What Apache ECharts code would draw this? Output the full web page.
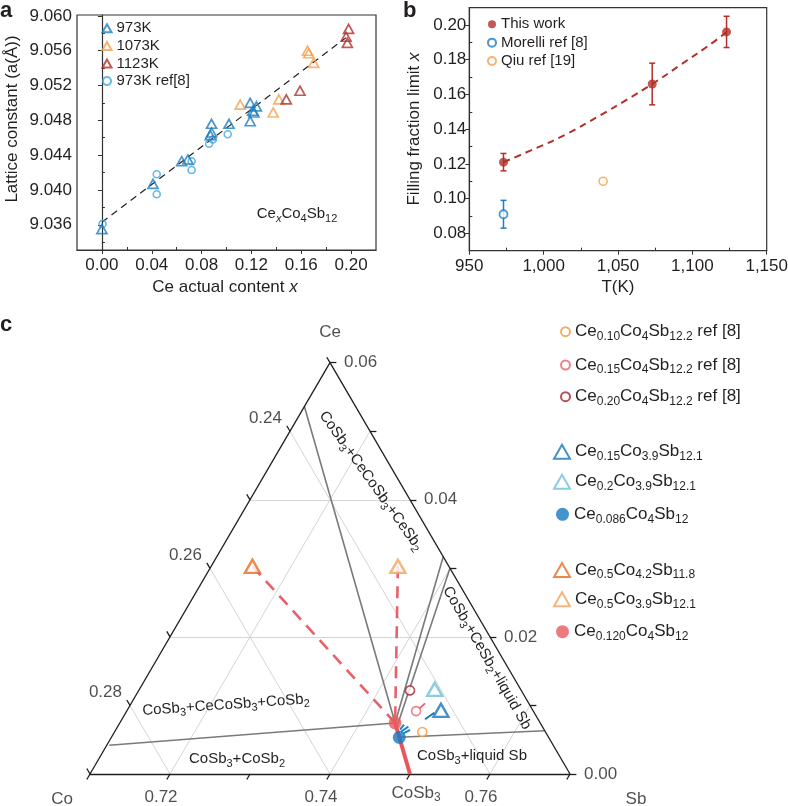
<!DOCTYPE html>
<html><head><meta charset="utf-8">
<script src="https://cdn.jsdelivr.net/npm/echarts@6/dist/echarts.min.js"></script>
<style>html,body{margin:0;padding:0;background:#fff}#chart{width:788px;height:806px}</style>
</head><body><div id="chart"></div>
<script>
const FONT = '"Liberation Sans", Arial, Helvetica, sans-serif';
const INK = '#231f20';

// ---------- Panel a : lattice constant vs Ce content ----------
const a_xTicks = [0.00, 0.04, 0.08, 0.12, 0.16, 0.20];
const a_xMinor = [0.02, 0.06, 0.10, 0.14, 0.18];
const a_yTicks = [9.036, 9.040, 9.044, 9.048, 9.052, 9.056, 9.060];
const a_yMinor = [9.034, 9.038, 9.042, 9.046, 9.050, 9.054, 9.058];
const a_973K = [[0.000,9.0355],[0.041,9.0407],[0.064,9.0433],[0.069,9.0435],[0.088,9.0476],[0.088,9.0466],[0.087,9.0463],[0.102,9.0476],[0.119,9.0500],[0.119,9.0479],[0.122,9.0489],[0.124,9.0496],[0.121,9.0491]];
const a_1073K = [[0.111,9.0498],[0.1375,9.0489],[0.142,9.0504],[0.165,9.0560],[0.166,9.0557],[0.170,9.0546]];
const a_1123K = [[0.148,9.0504],[0.159,9.0514],[0.198,9.0585],[0.196,9.0576],[0.197,9.0569]];
const a_973Kref = [[0.0005,9.0361],[0.044,9.0418],[0.044,9.0395],[0.072,9.0433],[0.072,9.0423],[0.086,9.0453],[0.089,9.0458],[0.101,9.0464]];
const a_fit = [[0.000,9.0363],[0.196,9.0575]];

// ---------- Panel b : filling fraction limit vs T ----------
const b_xTicks = [950, 1000, 1050, 1100, 1150];
const b_xMinor = [975, 1025, 1075, 1125];
const b_yTicks = [0.08, 0.10, 0.12, 0.14, 0.16, 0.18, 0.20];
const b_yMinor = [0.09, 0.11, 0.13, 0.15, 0.17, 0.19];
const b_thisT = [973, 1073, 1123];
const b_thisX = [0.121, 0.166, 0.196];
const b_thisErr = [0.005, 0.012, 0.009];
const b_morelliT = [973];
const b_morelliX = [0.091];
const b_morelliErr = [0.008];
const b_qiuT = [1040];
const b_qiuX = [0.110];
const b_fit = [[973,0.121],[991,0.1276],[1015,0.137],[1038,0.148],[1056,0.157],[1073,0.166],[1092,0.177],[1114,0.190],[1123,0.196]];

// ---------- Panel c : ternary section (Ce, Co, Sb atomic amounts) ----------
const c_ref010 = [0.10, 4, 12.2];
const c_ref015 = [0.15, 4, 12.2];
const c_ref020 = [0.20, 4, 12.2];
const c_s015 = [0.15, 3.9, 12.1];
const c_s020 = [0.2, 3.9, 12.1];
const c_s0086 = [0.086, 4, 12];
const c_n05a = [0.5, 4.2, 11.8];
const c_n05b = [0.5, 3.9, 12.1];
const c_s0120 = [0.120, 4, 12];
const c_CoSb3 = [0, 1, 3];
// phase boundaries as [Ce fraction, Sb fraction]
const c_boundA = [[0.0042, 0.7103], [0.00744, 0.74442]];
const c_boundB = [[0.0536, 0.7100], [0.00744, 0.74442]];
const c_boundC1 = [[0.0317, 0.7383], [0.00744, 0.74442]];
const c_boundC2 = [[0.0300, 0.7400], [0.00678, 0.74494]];
const c_boundD = [[0.00535, 0.74599], [0.00632, 0.76368]];
const c_tailPink = [[0.00956, 0.74641], [0.01031, 0.74672]];
const c_tailBlue = [[0.00798, 0.74789], [0.00894, 0.74857]];
const c_fanBlue = [[[0.00617, 0.74579], [0.00690, 0.74634]], [[0.00594, 0.74619], [0.00642, 0.74679]], [[0.00649, 0.74551], [0.00722, 0.74564]]];
const c_gridCe = [0.02, 0.04];
const c_gridSb = [0.72, 0.74, 0.76];
const c_gridCo = [0.24, 0.26, 0.28];
const c_tickCo = [0.23, 0.24, 0.25, 0.26, 0.27, 0.28, 0.29];
const c_tickSb = [0.71, 0.72, 0.73, 0.74, 0.75, 0.76, 0.77];
const c_tickCe = [0.00, 0.01, 0.02, 0.03, 0.04, 0.05, 0.06];
const c_labCo = [0.24, 0.26, 0.28];
const c_labSb = [0.72, 0.74, 0.76];
const c_labCe = [0.00, 0.02, 0.04, 0.06];

// ---------- helpers ----------
const CE_MAX = 0.06, SB_MIN = 0.71, CO_MIN = 0.23;
function frac(f) { const t = f[0] + f[1] + f[2]; return [f[0] / t, f[2] / t]; }
function proj(ce, sb) { return [sb + ce / 2, ce]; }
function projF(f) { const p = frac(f); return proj(p[0], p[1]); }
function seg(a, b) { return { coords: [proj(a[0], a[1]), proj(b[0], b[1])] }; }
function chem(str, b, s) { return str.replace(/([A-Za-z]+)([0-9.]+)/g, '{' + (b||'b') + '|$1}{' + (s||'s') + '|$2}'); }
function rich(fs, sfs, colorKey) {
  const c = {}; c[colorKey] = INK;
  return {
    b: Object.assign({ fontSize: fs, fontFamily: FONT, lineHeight: fs + 5 }, c),
    s: Object.assign({ fontSize: sfs, fontFamily: FONT, lineHeight: 8, verticalAlign: 'bottom' }, c),
    i: Object.assign({ fontSize: fs, fontFamily: FONT, lineHeight: fs + 5, fontStyle: 'italic' }, c),
    si: Object.assign({ fontSize: sfs, fontFamily: FONT, lineHeight: 8, verticalAlign: 'bottom', fontStyle: 'italic' }, c)
  };
}

const axLine = { show: true, lineStyle: { color: '#333', width: 1.2 } };
const lbl = { fontSize: 17, fontFamily: FONT, color: INK };
function majorAxis(grid, min, max, ticks, fmt, margin, pos) {
  return { gridIndex: grid, type: 'value', min, max, position: pos, axisLine: axLine,
    axisTick: { show: true, inside: false, length: 4, customValues: ticks, lineStyle: { color: '#333', width: 1 } },
    axisLabel: Object.assign({ customValues: ticks, formatter: fmt, margin }, lbl),
    splitLine: { show: false } };
}
function minorAxis(grid, min, max, ticks, pos) {
  return { gridIndex: grid, type: 'value', min, max, position: pos, axisLine: { show: false },
    axisTick: { show: true, inside: true, length: 3, customValues: ticks, lineStyle: { color: '#333', width: 1 } },
    axisLabel: { show: false }, splitLine: { show: false } };
}
const fmtB = v => v >= 1000 ? Math.floor(v / 1000) + ',' + String(v % 1000).padStart(3, '0') : String(v);

// colours
const C = { blue: '#1c7dc2', orange: '#f4a04e', dred: '#b3302a', lblue: '#3fa8dc' };

function openSym(color, bw) { return { color: 'transparent', borderColor: color, borderWidth: bw }; }
function errRender(color) {
  return function (params, api) {
    const x = api.value(0), lo = api.value(1), hi = api.value(2);
    const p1 = api.coord([x, lo]), p2 = api.coord([x, hi]);
    const w = 3, st = { stroke: color, lineWidth: 1.5 };
    return { type: 'group', children: [
      { type: 'line', shape: { x1: p1[0], y1: p1[1], x2: p2[0], y2: p2[1] }, style: st },
      { type: 'line', shape: { x1: p1[0] - w, y1: p1[1], x2: p1[0] + w, y2: p1[1] }, style: st },
      { type: 'line', shape: { x1: p2[0] - w, y1: p2[1], x2: p2[0] + w, y2: p2[1] }, style: st }
    ] };
  };
}

// ternary line sets
const gridSegs = [];
c_gridCe.forEach(v => gridSegs.push(seg([v, SB_MIN], [v, 1 - CO_MIN - v])));
c_gridSb.forEach(v => gridSegs.push(seg([0, v], [1 - CO_MIN - v, v])));
c_gridCo.forEach(v => gridSegs.push(seg([1 - SB_MIN - v, SB_MIN], [0, 1 - v])));
const edgeSegs = [seg([0, SB_MIN], [0, 1 - CO_MIN]), seg([0, 1 - CO_MIN], [CE_MAX, SB_MIN]), seg([CE_MAX, SB_MIN], [0, SB_MIN])];
const d = 0.0008, tickSegs = [];
c_tickCo.forEach(v => { const ce = 1 - SB_MIN - v; tickSegs.push(seg([ce, SB_MIN], [ce + d, SB_MIN - d])); });
c_tickSb.forEach(v => tickSegs.push(seg([0, v], [-d, v])));
c_tickCe.forEach(v => tickSegs.push(seg([v, 1 - CO_MIN - v], [v, 1 - CO_MIN - v + d])));
const P = frac(c_s0120), Q = frac(c_s0086), T1 = frac(c_n05a), T2 = frac(c_n05b), CS = frac(c_CoSb3);

const labelData = [];
const rich17 = rich(17, 12, 'color');
c_labCo.forEach(v => labelData.push({ value: proj(1 - SB_MIN - v, SB_MIN), label: { formatter: v.toFixed(2), align: 'right', offset: [-8, -13] } }));
c_labSb.forEach(v => labelData.push({ value: proj(0, v), label: { formatter: v.toFixed(2), align: 'center', offset: [-9, 23] } }));
c_labCe.forEach(v => labelData.push({ value: proj(v, 1 - CO_MIN - v), label: { formatter: v.toFixed(2), align: 'left', offset: [14, 0] } }));
labelData.push({ value: proj(CE_MAX, SB_MIN), label: { formatter: 'Ce', align: 'center', offset: [0, -30] } });
labelData.push({ value: proj(0, SB_MIN), label: { formatter: 'Co', align: 'center', offset: [-28, 25] } });
labelData.push({ value: proj(0, 1 - CO_MIN), label: { formatter: 'Sb', align: 'center', offset: [66, 25] } });
labelData.push({ value: proj(CS[0], CS[1]), label: { formatter: chem('CoSb3'), align: 'center', offset: [6, 19] } });

const X = 4; // ternary axis index
function cLines(data, style, z) {
  return { type: 'lines', coordinateSystem: 'cartesian2d', xAxisIndex: X, yAxisIndex: X, polyline: false, clip: false, silent: true, z: z || 2,
    lineStyle: Object.assign({ opacity: 1 }, style), data };
}
function cPoint(name, f, symbol, size, itemStyle) {
  return { type: 'scatter', name, xAxisIndex: X, yAxisIndex: X, symbol, symbolSize: size, clip: false, z: 6, itemStyle, data: [projF(f)] };
}

const cNames = ['Ce0.10Co4Sb12.2 ref [8]', 'Ce0.15Co4Sb12.2 ref [8]', 'Ce0.20Co4Sb12.2 ref [8]', 'Ce0.15Co3.9Sb12.1', 'Ce0.2Co3.9Sb12.1', 'Ce0.086Co4Sb12', 'Ce0.5Co4.2Sb11.8', 'Ce0.5Co3.9Sb12.1', 'Ce0.120Co4Sb12'];
const cLegTop = [320.7, 354, 385.7, 440.7, 470.7, 503.3, 559, 588.3, 620.7];
const cLegW = [9, 9, 9, 16, 16, 13, 16, 16, 13];
const cLegH = [9, 9, 9, 14, 14, 13, 14, 14, 13];

const legends = [
  { data: ['973K', '1073K', '1123K', '973K ref[8]'], orient: 'vertical', left: 101.5, top: 20.8, itemWidth: 9, itemHeight: 8, itemGap: 2.6, padding: 0, selectedMode: false,
    textStyle: { fontSize: 15, fontFamily: FONT, color: INK, lineHeight: 15 } },
  { data: ['This work', 'Morelli ref [8]', 'Qiu ref [19]'], orient: 'vertical', left: 487, top: 16.8, itemWidth: 8, itemHeight: 8, itemGap: 3.35, padding: 0, selectedMode: false,
    textStyle: { fontSize: 15, fontFamily: FONT, color: INK, lineHeight: 15 } }
];
cNames.forEach((n, i) => legends.push({ data: [n], orient: 'vertical', left: 574 - 5 - cLegW[i], top: cLegTop[i], itemWidth: cLegW[i], itemHeight: cLegH[i], padding: 0, selectedMode: false,
  formatter: nm => chem(nm), textStyle: { fontSize: 17, fontFamily: FONT, color: INK, lineHeight: 22, rich: rich17 } }));

const zr15 = rich(15, 11, 'fill');
const zr17 = rich(17, 12, 'fill');
function gText(x, y, text, opts) {
  return Object.assign({ type: 'text', x, y, silent: true, z: 20,
    style: Object.assign({ text, fontSize: 17, fontFamily: FONT, fill: INK, align: 'center', verticalAlign: 'middle' }, (opts && opts.style) || {}) }, (opts && opts.el) || {});
}
const deg = Math.PI / 180;

const option = {
  animation: false,
  backgroundColor: '#fff',
  grid: [
    { left: 77, top: 15, width: 299, height: 235, show: true, borderColor: '#333', borderWidth: 1.2, backgroundColor: 'transparent', outerBoundsMode: 'none' },
    { left: 469.3, top: 7.6, width: 297.4, height: 243.1, show: true, borderColor: '#333', borderWidth: 1.2, backgroundColor: 'transparent', outerBoundsMode: 'none' },
    { left: 90, top: 362.7, width: 480, height: 411.3, show: false, outerBoundsMode: 'none' }
  ],
  xAxis: [
    majorAxis(0, -0.02, 0.22, a_xTicks, v => v.toFixed(2), 7, 'bottom'),
    minorAxis(0, -0.02, 0.22, a_xMinor, 'bottom'),
    majorAxis(1, 950, 1150, b_xTicks, fmtB, 7, 'bottom'),
    minorAxis(1, 950, 1150, b_xMinor, 'bottom'),
    { gridIndex: 2, type: 'value', min: SB_MIN, max: 1 - CO_MIN, show: false }
  ],
  yAxis: [
    majorAxis(0, 9.0331, 9.0601, a_yTicks, v => v.toFixed(3), 5, 'left'),
    minorAxis(0, 9.0331, 9.0601, a_yMinor, 'left'),
    majorAxis(1, 0.07, 0.21, b_yTicks, v => v.toFixed(2), 3, 'left'),
    minorAxis(1, 0.07, 0.21, b_yMinor, 'left'),
    { gridIndex: 2, type: 'value', min: 0, max: CE_MAX, show: false }
  ],
  legend: legends,
  series: [
    // panel a
    { type: 'line', xAxisIndex: 0, yAxisIndex: 0, data: a_fit, symbol: 'none', lineStyle: { color: '#222', width: 1.2, type: [7, 5] }, z: 1 },
    { type: 'scatter', name: '973K ref[8]', xAxisIndex: 0, yAxisIndex: 0, symbol: 'circle', symbolSize: 7, itemStyle: openSym(C.lblue, 1.6), data: a_973Kref },
    { type: 'scatter', name: '973K', xAxisIndex: 0, yAxisIndex: 0, symbol: 'triangle', symbolSize: [10, 9], itemStyle: openSym(C.blue, 1.7), data: a_973K },
    { type: 'scatter', name: '1073K', xAxisIndex: 0, yAxisIndex: 0, symbol: 'triangle', symbolSize: [10, 9], itemStyle: openSym(C.orange, 1.7), data: a_1073K },
    { type: 'scatter', name: '1123K', xAxisIndex: 0, yAxisIndex: 0, symbol: 'triangle', symbolSize: [10, 9], itemStyle: openSym(C.dred, 1.7), data: a_1123K },
    // panel b
    { type: 'line', xAxisIndex: 2, yAxisIndex: 2, data: b_fit, smooth: true, symbol: 'none', lineStyle: { color: C.dred, width: 2, type: [7, 5] }, z: 1 },
    { type: 'custom', xAxisIndex: 2, yAxisIndex: 2, renderItem: errRender(C.dred), encode: { x: 0, y: [1, 2] },
      data: b_thisT.map((t, i) => [t, b_thisX[i] - b_thisErr[i], b_thisX[i] + b_thisErr[i]]), z: 2 },
    { type: 'custom', xAxisIndex: 2, yAxisIndex: 2, renderItem: errRender(C.blue), encode: { x: 0, y: [1, 2] },
      data: b_morelliT.map((t, i) => [t, b_morelliX[i] - b_morelliErr[i], b_morelliX[i] + b_morelliErr[i]]), z: 2 },
    { type: 'scatter', name: 'This work', xAxisIndex: 2, yAxisIndex: 2, symbol: 'circle', symbolSize: 9, itemStyle: { color: C.dred }, data: b_thisT.map((t, i) => [t, b_thisX[i]]), z: 3 },
    { type: 'scatter', name: 'Morelli ref [8]', xAxisIndex: 2, yAxisIndex: 2, symbol: 'circle', symbolSize: 8, itemStyle: { color: '#fff', borderColor: C.blue, borderWidth: 1.8 }, data: b_morelliT.map((t, i) => [t, b_morelliX[i]]), z: 3 },
    { type: 'scatter', name: 'Qiu ref [19]', xAxisIndex: 2, yAxisIndex: 2, symbol: 'circle', symbolSize: 8, itemStyle: { color: '#fff', borderColor: C.orange, borderWidth: 1.6 }, data: b_qiuT.map((t, i) => [t, b_qiuX[i]]), z: 3 },
    // panel c
    cLines(gridSegs, { color: '#cfcfcf', width: 0.9 }, 1),
    cLines(edgeSegs.concat(tickSegs), { color: '#1e1e1e', width: 1.3 }, 3),
    cLines([c_boundA, c_boundB, c_boundC1, c_boundC2, c_boundD].map(b => seg(b[0], b[1])), { color: '#7a7a7a', width: 1.6 }, 2),
    cLines([seg(T1, P), seg(T2, P)], { color: '#e8616a', width: 2.6, type: [12, 8] }, 3),
    cLines([seg(CS, P)], { color: '#e9575c', width: 4 }, 4),
    cLines([seg(c_tailPink[0], c_tailPink[1])], { color: '#e8616a', width: 1.8 }, 7),
    cLines([seg(c_tailBlue[0], c_tailBlue[1])], { color: '#1677bd', width: 2 }, 7),
    cPoint(cNames[0], c_ref010, 'circle', 9, { color: '#fff', borderColor: '#f0993f', borderWidth: 1.6 }),
    cPoint(cNames[1], c_ref015, 'circle', 9, { color: '#fff', borderColor: '#e8616a', borderWidth: 1.6 }),
    cPoint(cNames[2], c_ref020, 'circle', 9, { color: '#fff', borderColor: '#a3262a', borderWidth: 1.6 }),
    cPoint(cNames[3], c_s015, 'triangle', [15, 13], { color: '#fff', borderColor: '#1677bd', borderWidth: 2.4 }),
    cPoint(cNames[4], c_s020, 'triangle', [15, 13], { color: '#fff', borderColor: '#6cc0d8', borderWidth: 2.4 }),
    cPoint(cNames[5], c_s0086, 'circle', 13, { color: '#1679c0' }),
    cPoint(cNames[6], c_n05a, 'triangle', [15, 13], { color: '#fff', borderColor: '#e86a22', borderWidth: 2.4 }),
    cPoint(cNames[7], c_n05b, 'triangle', [15, 13], { color: '#fff', borderColor: '#f4a35c', borderWidth: 2.4 }),
    Object.assign(cPoint(cNames[8], c_s0120, 'circle', 13, { color: '#e85a5e' }), { z: 8 }),
    cLines(c_fanBlue.map(s => seg(s[0], s[1])), { color: '#1c86c8', width: 2 }, 9),
    { type: 'scatter', xAxisIndex: X, yAxisIndex: X, symbolSize: 1, clip: false, silent: true, z: 10, itemStyle: { color: 'transparent' },
      label: { show: true, position: 'inside', fontSize: 17, fontFamily: FONT, color: INK, lineHeight: 22, rich: rich17 }, data: labelData }
  ],
  graphic: [
    gText(0, 10.5, 'a', { style: { fontSize: 22, fontWeight: 'bold', align: 'left' } }),
    gText(403, 10.5, 'b', { style: { fontSize: 22, fontWeight: 'bold', align: 'left' } }),
    gText(0, 324.5, 'c', { style: { fontSize: 22, fontWeight: 'bold', align: 'left' } }),
    gText(12, 119, 'Lattice constant (a(Å))', { el: { rotation: 90 * deg } }),
    gText(225, 287, 'Ce actual content {i|x}', { style: { rich: zr17 } }),
    gText(414, 129, 'Filling fraction limit {i|x}', { el: { rotation: 90 * deg }, style: { rich: zr17 } }),
    gText(618, 287, 'T(K)'),
    gText(297, 214, '{b|Ce}{si|x}{b|Co}{s|4}{b|Sb}{s|12}', { style: { rich: zr15, fontSize: 15 } }),
    gText(371, 481, chem('CoSb3+CeCoSb3+CeSb2'), { el: { rotation: -54.5 * deg }, style: { rich: zr15, fontSize: 15, lineHeight: 20 } }),
    gText(487, 658, chem('CoSb3+CeSb2+liquid Sb'), { el: { rotation: -60 * deg }, style: { rich: zr15, fontSize: 15, lineHeight: 20 } }),
    gText(226, 705, chem('CoSb3+CeCoSb3+CoSb2'), { el: { rotation: 4 * deg }, style: { rich: zr15, fontSize: 15, lineHeight: 20 } }),
    gText(237, 759, chem('CoSb3+CoSb2'), { style: { rich: zr15, fontSize: 15, lineHeight: 20 } }),
    gText(472, 756, chem('CoSb3+liquid Sb'), { style: { rich: zr15, fontSize: 15, lineHeight: 20 } })
  ]
};

const chart = echarts.init(document.getElementById('chart'), null, { renderer: 'canvas' });
chart.setOption(option);
</script></body></html>
